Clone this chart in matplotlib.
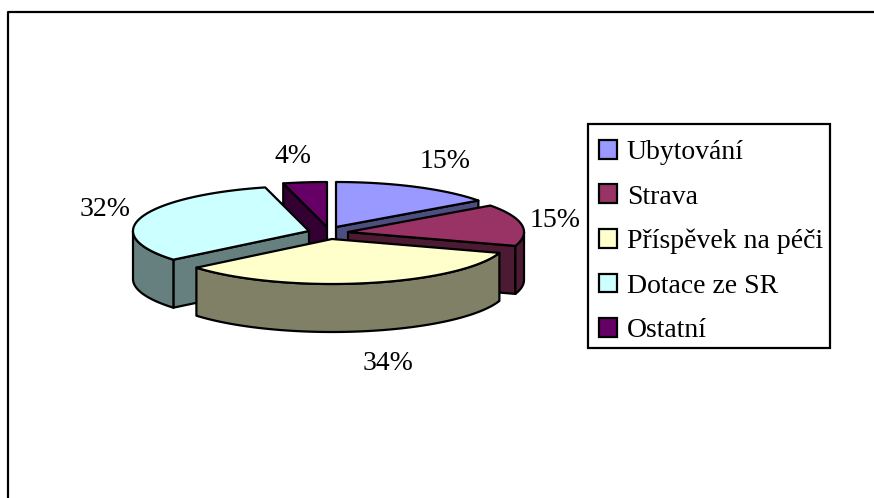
import numpy as np
import matplotlib
matplotlib.use('Agg')
import matplotlib.pyplot as plt
from matplotlib.patches import Polygon, Patch, Rectangle

plt.rcParams['font.family'] = ['Liberation Serif', 'DejaVu Serif']

categories = ['Ubytování', 'Strava', 'Příspěvek na péči', 'Dotace ze SR', 'Ostatní']
shares = [15, 15, 34, 32, 4]
colors = ['#9999FF', '#993366', '#FFFFCC', '#CCFFFF', '#660066']
side_colors = ['#4D4D80', '#4D1A33', '#808066', '#668080', '#330033']

# where each exploded slice has its apex, and where its label sits (pixels)
apex = [(336, 227), (348, 232), (332, 239), (309, 231), (327, 227)]
label_pos = [(445, 161), (555, 220), (388, 363), (105, 209), (293, 156)]
draw_order = [4, 0, 1, 3, 2]

rx, ry, depth = 176, 45, 48
lw = 1.6


def rim(cx, cy, a0, a1):
    t = np.radians(np.linspace(a0, a1, max(int(a1 - a0) * 2, 2)))
    return np.column_stack([cx + rx * np.sin(t), cy - ry * np.cos(t)])


fig = plt.figure(figsize=(8.74, 4.98), dpi=100)
ax = fig.add_axes([0, 0, 1, 1])
ax.set_xlim(0, 874)
ax.set_ylim(498, 0)
ax.axis('off')

# chart frame, only left and top end inside the picture
ax.plot([8, 8, 874], [498, 12, 12], color='black', lw=lw)

edges = np.cumsum([0] + shares) * 3.6
down = np.array([0, depth])
for i in draw_order:
    cx, cy = apex[i]
    a0, a1 = edges[i], edges[i + 1]
    style = dict(edgecolor='black', linewidth=lw, joinstyle='round')

    # radial faces that look towards the viewer
    for a, facing in ((a0, np.sin(np.radians(a0)) < -1e-9), (a1, np.sin(np.radians(a1)) > 1e-9)):
        if facing:
            p = rim(cx, cy, a, a)[0]
            ax.add_patch(Polygon([(cx, cy), p, p + down, (cx, cy + depth)],
                                 facecolor=side_colors[i], **style))
    # outer wall, front half only
    f0, f1 = max(a0, 90), min(a1, 270)
    if f1 > f0:
        r = rim(cx, cy, f0, f1)
        ax.add_patch(Polygon(np.vstack([r, r[::-1] + down]),
                             facecolor=side_colors[i], **style))
    # top
    ax.add_patch(Polygon(np.vstack([[(cx, cy)], rim(cx, cy, a0, a1)]),
                         facecolor=colors[i], **style))

for share, (x, y) in zip(shares, label_pos):
    ax.text(x, y, f'{share}%', fontsize=20, ha='center', va='center')

ax.add_patch(Rectangle((588, 124), 242, 224, facecolor='white', edgecolor='black', linewidth=lw))
handles = [Patch(facecolor=c, edgecolor='black', linewidth=lw) for c in colors]
ax.legend(handles, categories, loc='upper left', bbox_to_anchor=(599, 140),
          bbox_transform=ax.transData, fontsize=20, frameon=False,
          borderaxespad=0, handlelength=0.65, handleheight=0.65,
          handletextpad=0.35, labelspacing=0.7, borderpad=0)

fig.savefig('out.png', dpi=100)
